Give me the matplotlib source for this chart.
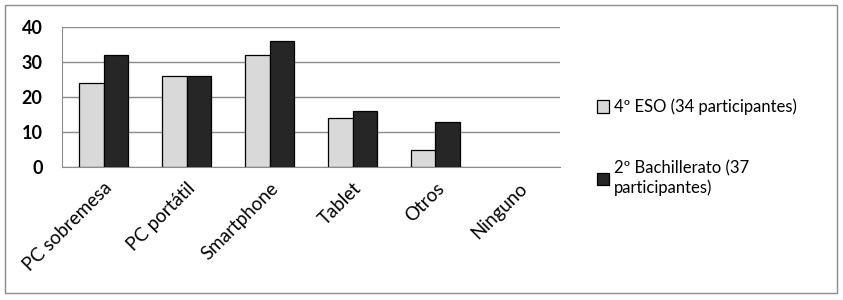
import matplotlib
matplotlib.use("Agg")
import matplotlib.pyplot as plt
from matplotlib.patches import Rectangle
import numpy as np

categories = ["PC sobremesa", "PC portátil", "Smartphone", "Tablet", "Otros", "Ninguno"]
eso = [24, 26, 32, 14, 5, 0]
bach = [32, 26, 36, 16, 13, 0]
series_labels = ["4º ESO (34 participantes)", "2º Bachillerato (37\nparticipantes)"]
yticks = [0, 10, 20, 30, 40]

plt.rcParams['font.family'] = ['Lato', 'DejaVu Sans']

W, H = 843, 300
fig = plt.figure(figsize=(W/100, H/100), dpi=100)
fig.patches.append(Rectangle((5/W, 7/H), 832/W, 288/H, transform=fig.transFigure,
                             fill=False, edgecolor='#8c8c8c', linewidth=1.0))

ax = fig.add_axes([62/W, 1-167/H, 498/W, 140/H])
x = np.arange(len(categories))
bw = 0.29
lw_e = [0.9 if v > 0 else 0 for v in eso]
lw_b = [0.9 if v > 0 else 0 for v in bach]
ax.bar(x - bw/2, eso, bw, color='#d9d9d9', edgecolor='black', linewidth=lw_e,
       label=series_labels[0], zorder=3)
ax.bar(x + bw/2, bach, bw, color='#262626', edgecolor='black', linewidth=lw_b,
       label=series_labels[1], zorder=3)
ax.set_xlim(-0.5, len(categories) - 0.5)
ax.set_ylim(0, 40)
ax.set_yticks(yticks)
ax.set_yticklabels([str(v) for v in yticks], fontsize=13, fontweight='bold')
ax.yaxis.grid(True, color='#8c8c8c', linewidth=1.0, zorder=0)
ax.set_xticks(x)
ax.set_xticklabels(categories, rotation=45, ha='right', rotation_mode='anchor',
                   fontsize=13.5)
ax.tick_params(axis='x', length=0, pad=9)
ax.tick_params(axis='y', length=0, pad=14)
for s in ['top', 'right']:
    ax.spines[s].set_visible(False)
ax.spines['left'].set_color('#8c8c8c')
ax.spines['bottom'].set_color('#8c8c8c')

handles, labels = ax.get_legend_handles_labels()
leg = fig.legend(handles, labels, loc='upper left', bbox_to_anchor=(590/W, 1-92/H),
                 frameon=False, fontsize=12, handlelength=0.75, handleheight=0.75,
                 handletextpad=0.3, labelspacing=2.7, borderaxespad=0)

fig.savefig("out.png", dpi=100)
